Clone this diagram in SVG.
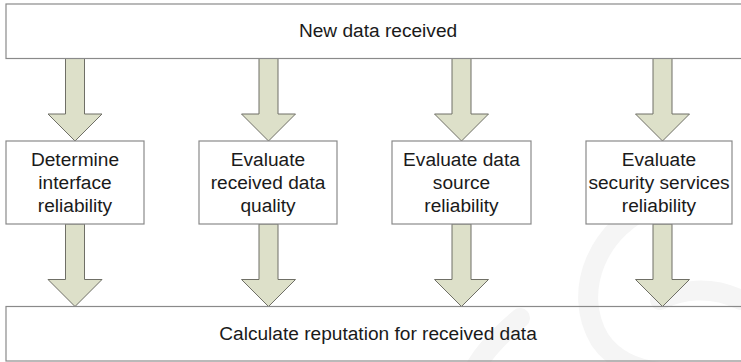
<svg xmlns="http://www.w3.org/2000/svg" width="741" height="362" viewBox="0 0 741 362">
<defs>
<style>
.box{fill:none;stroke:#8a8a8a;stroke-width:1.2}
.bg{fill:#ffffff}
.arr{fill:#dde0c9;stroke:#6f6f66;stroke-width:1;stroke-linejoin:miter}
.t{font-family:"Liberation Sans",Arial,sans-serif;font-size:18.2px;fill:#1a1a1a;text-anchor:middle}
.wm{fill:none;stroke:#f5f5f5;stroke-width:20;stroke-linecap:round}
</style>
<path id="a" d="M-9.5,0 L9.5,0 L9.5,55.5 L27,55.5 L0,82.5 L-27,55.5 L-9.5,55.5 Z"/>
</defs>
<rect x="0" y="0" width="741" height="362" fill="#ffffff"/>
<g id="watermark">
<path class="wm" d="M655,205 C600,225 570,290 600,340 C615,362 640,370 660,372"/>
<path class="wm" d="M741,300 C710,285 680,290 660,300"/>
<path class="wm" d="M520,318 C500,335 485,350 475,368"/>
</g>
<g id="connectors">
<use href="#a" class="arr" transform="translate(75,58.5)"/>
<use href="#a" class="arr" transform="translate(268.5,58.5)"/>
<use href="#a" class="arr" transform="translate(461.5,58.5)"/>
<use href="#a" class="arr" transform="translate(662.5,58.5)"/>
<use href="#a" class="arr" transform="translate(75,224)"/>
<use href="#a" class="arr" transform="translate(268.5,224)"/>
<use href="#a" class="arr" transform="translate(461.5,224)"/>
<use href="#a" class="arr" transform="translate(662.5,224)"/>
</g>
<g id="top">
<rect class="box" x="6" y="4" width="750" height="54.5"/>
<text class="t" transform="translate(378,37) scale(1.05,1)">New data received</text>
</g>
<g id="n1">
<rect class="box bg" x="6" y="141" width="138" height="83"/>
<text class="t" transform="translate(75,165.5) scale(1.05,1)">Determine</text>
<text class="t" transform="translate(75,188.5) scale(1.05,1)">interface</text>
<text class="t" transform="translate(75,211.5) scale(1.05,1)">reliability</text>
</g>
<g id="n2">
<rect class="box bg" x="199" y="141" width="138" height="83"/>
<text class="t" transform="translate(268,165.5) scale(1.05,1)">Evaluate</text>
<text class="t" transform="translate(268,188.5) scale(1.05,1)">received data</text>
<text class="t" transform="translate(268,211.5) scale(1.05,1)">quality</text>
</g>
<g id="n3">
<rect class="box bg" x="392" y="141" width="139" height="83"/>
<text class="t" transform="translate(461.5,165.5) scale(1.05,1)">Evaluate data</text>
<text class="t" transform="translate(461.5,188.5) scale(1.05,1)">source</text>
<text class="t" transform="translate(461.5,211.5) scale(1.05,1)">reliability</text>
</g>
<g id="n4">
<rect class="box bg" x="586" y="141" width="146" height="83"/>
<text class="t" transform="translate(659,165.5) scale(1.05,1)">Evaluate</text>
<text class="t" transform="translate(659,188.5) scale(1.05,1)">security services</text>
<text class="t" transform="translate(659,211.5) scale(1.05,1)">reliability</text>
</g>
<g id="bottom">
<rect class="box" x="6" y="306.5" width="750" height="54.5"/>
<text class="t" transform="translate(378,339.5) scale(1.05,1)">Calculate reputation for received data</text>
</g>
</svg>
